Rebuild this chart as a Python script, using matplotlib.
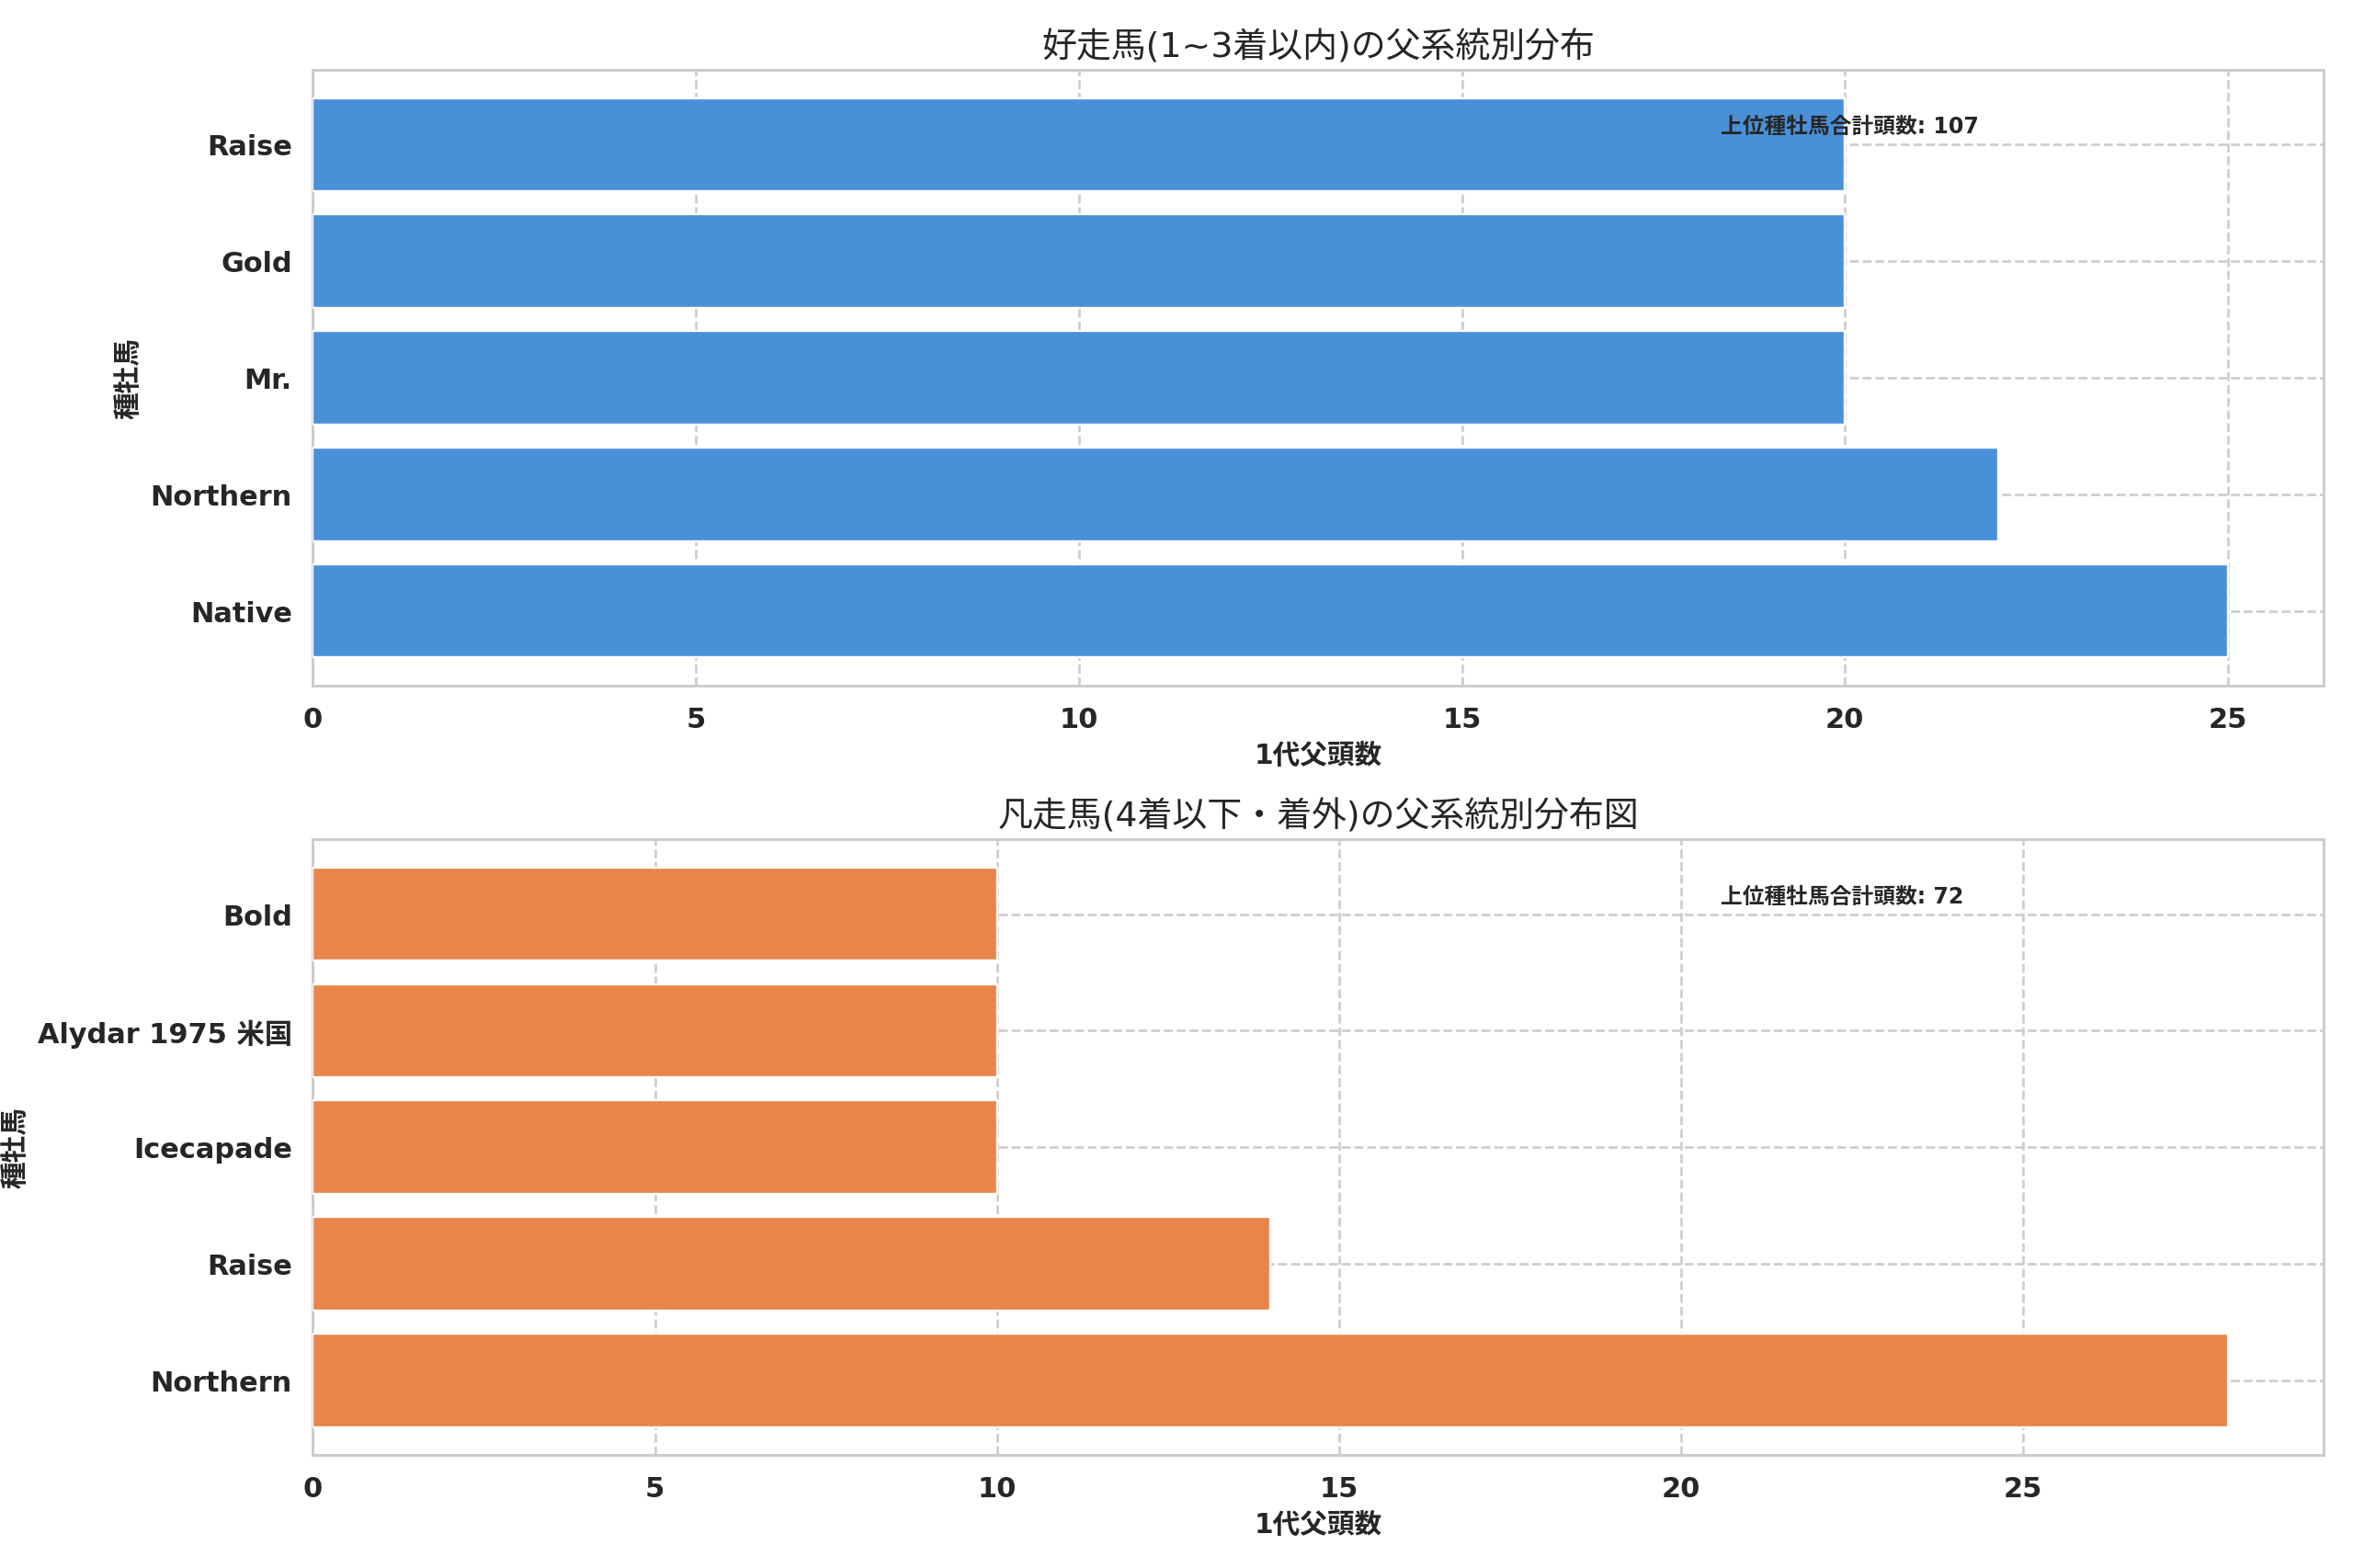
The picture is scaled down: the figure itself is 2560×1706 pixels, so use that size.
import matplotlib
matplotlib.use("Agg")
import matplotlib.pyplot as plt
import seaborn as sns

# --- datos ---
sires_top = ["Native", "Northern", "Mr.", "Gold", "Raise"]
counts_top = [25, 22, 20, 20, 20]
sires_bottom = ["Northern", "Raise", "Icecapade", "Alydar 1975 米国", "Bold"]
counts_bottom = [28, 14, 10, 10, 10]

title_top = "好走馬(1~3着以内)の父系統別分布"
title_bottom = "凡走馬(4着以下・着外)の父系統別分布図"
xlabel = "1代父頭数"
ylabel = "種牡馬"
total_label = "上位種牡馬合計頭数"

sns.set_theme(style="whitegrid")
plt.rcParams['font.family'] = ['DejaVu Sans', 'Noto Sans CJK JP']

fig, axes = plt.subplots(2, 1, figsize=(15, 10), dpi=170.67)
fig.subplots_adjust(left=0.133, right=0.9875, top=0.955, bottom=0.072, hspace=0.25)

paneles = [
    (axes[0], sires_top, counts_top, "#4A90D9", title_top),
    (axes[1], sires_bottom, counts_bottom, "#E8854A", title_bottom),
]

for ax, nombres, valores, color, titulo in paneles:
    ax.barh(nombres, valores, color=color, height=0.8, zorder=3)
    ax.set_title(titulo, fontsize=16)
    ax.set_xlabel(xlabel, fontsize=12.5, fontweight='bold')
    ax.set_ylabel(ylabel, fontsize=12.5, fontweight='bold')
    ax.grid(True, linestyle='--', color='#cccccc', linewidth=1.1, zorder=0)
    for lab in ax.get_xticklabels() + ax.get_yticklabels():
        lab.set_fontweight('bold')
        lab.set_fontsize(12.8)
    for s in ax.spines.values():
        s.set_color('#cccccc')
    # total de la serie
    ax.text(0.70, 0.908, f"{total_label}: {sum(valores)}", transform=ax.transAxes,
            fontsize=10, fontweight='bold', va='center', ha='left', zorder=5)

fig.savefig("out.png", dpi=170.67)
